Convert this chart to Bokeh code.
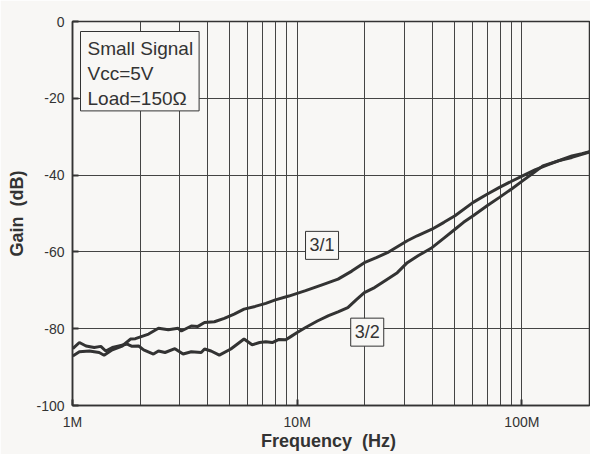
from bokeh.plotting import figure
from bokeh.models import FixedTicker, Label
from bokeh.embed import file_html
from bokeh.resources import INLINE

# Frequency in MHz, gain in dB
f_31 = [1.003, 1.073, 1.188, 1.314, 1.382, 1.504, 1.664, 1.811, 1.905, 2.181, 2.413,
        2.669, 2.953, 3.053, 3.379, 3.616, 3.870, 4.281, 4.737, 5.243, 5.801, 6.5,
        7.25, 8.0, 9.18, 10.9, 13.0, 15.2, 17.5, 19.9, 22.5, 25.2, 30.9, 34.2, 39.8,
        45.0, 50.4, 60.7, 70.0, 79.5, 90.0, 100.7, 115.0, 132.0, 150.0, 167.0, 185.0, 200.0]
g_31 = [-87.1, -86.0, -85.8, -86.2, -86.9, -85.5, -84.5, -82.7, -82.6, -81.4, -79.9,
        -80.3, -79.9, -80.6, -79.3, -79.4, -78.4, -78.2, -77.3, -76.2, -74.9, -74.2,
        -73.4, -72.5, -71.5, -70.1, -68.5, -67.1, -65.0, -62.8, -61.5, -60.2, -57.1, -55.8, -54.1,
        -52.3, -50.6, -47.1, -45.0, -43.2, -41.6, -40.2, -38.6, -37.2, -36.0, -35.0, -34.4, -33.9]

f_32 = [1.003, 1.073, 1.149, 1.249, 1.337, 1.406, 1.504, 1.609, 1.751, 1.841, 1.970,
        2.073, 2.293, 2.413, 2.581, 2.856, 3.107, 3.379, 3.739, 3.870, 4.137, 4.504,
        5.066, 5.422, 5.801, 6.3, 6.8, 7.25, 7.75, 8.3, 8.9, 9.4, 10.0, 10.9, 12.3, 13.8,
        15.2, 16.8, 18.3, 19.9, 22.1, 24.9, 27.9, 30.9, 34.5, 39.8, 45.0, 50.4, 55.0,
        60.7, 70.0, 79.5, 90.0, 100.7, 112.0, 124.0, 145.0, 167.0, 185.0, 200.0]
g_32 = [-85.2, -83.6, -84.5, -84.9, -84.6, -85.8, -84.9, -84.5, -84.0, -84.6, -84.5,
        -85.5, -86.6, -85.8, -86.2, -85.2, -86.6, -86.0, -86.2, -85.3, -85.8, -86.9,
        -85.3, -84.0, -82.7, -84.2, -83.6, -83.4, -83.6, -82.8, -82.9, -82.0, -81.0, -79.7, -78.0, -76.6,
        -75.6, -74.5, -72.5, -70.6, -69.3, -67.3, -65.4, -62.8, -61.0, -58.9, -56.4, -54.1, -52.3,
        -50.6, -48.0, -45.8, -43.6, -41.5, -39.5, -37.6, -36.3, -35.4, -34.6, -34.0]

x_ticks = [1, 10, 100]
x_tick_labels = {1: "1M", 10: "10M", 100: "100M"}
x_grid = [1, 2, 3, 4, 5, 6, 7, 8, 9, 10, 20, 30, 40, 50, 60, 70, 80, 90, 100, 200]
y_ticks = [-100, -80, -60, -40, -20, 0]
y_tick_labels = {-100: "-100", -80: "-80", -60: "-60", -40: "-40", -20: "-20", 0: "0"}

BG = "#f8f7f5"
INK = "#333333"
FONT = "Liberation Sans"

p = figure(x_axis_type="log", x_range=(1, 200), y_range=(-100, 0),
           width=590, height=454,
           min_border_left=72, min_border_top=21, min_border_right=1, min_border_bottom=49,
           output_backend="svg", toolbar_location=None,
           background_fill_color=BG, border_fill_color=BG)

p.outline_line_color = INK
p.outline_line_width = 1.5

p.xaxis.ticker = FixedTicker(ticks=x_ticks, minor_ticks=[])
p.xaxis.major_label_overrides = x_tick_labels
p.yaxis.ticker = FixedTicker(ticks=y_ticks, minor_ticks=[])
p.yaxis.major_label_overrides = y_tick_labels
p.xgrid.ticker = FixedTicker(ticks=x_grid)
p.ygrid.ticker = FixedTicker(ticks=y_ticks)

for ax in (p.xaxis[0], p.yaxis[0]):
    ax.axis_line_color = INK
    ax.axis_line_width = 1.5
    ax.major_tick_in = 6
    ax.major_tick_out = 0
    ax.major_tick_line_width = 2
    ax.major_tick_line_color = INK
    ax.minor_tick_line_color = None
    ax.major_label_text_font = FONT
    ax.major_label_text_font_size = "14px"
    ax.major_label_text_color = INK
    ax.axis_label_text_font = FONT
    ax.axis_label_text_font_size = "18px"
    ax.axis_label_text_font_style = "bold"
    ax.axis_label_text_color = INK

p.xaxis.axis_label = "Frequency\u00a0\u00a0(Hz)\u00a0"
p.yaxis.axis_label = "Gain\u00a0\u00a0(dB)"
p.xaxis.major_label_standoff = 8
p.yaxis.major_label_standoff = 8
p.xaxis.axis_label_standoff = -2
p.yaxis.axis_label_standoff = 6

for g in (p.xgrid[0], p.ygrid[0]):
    g.grid_line_color = "#444444"
    g.grid_line_width = 1

p.line(f_31, g_31, line_color=INK, line_width=3)
p.line(f_32, g_32, line_color=INK, line_width=3)

p.add_layout(Label(x=12.9, y=-58.3, text="3/1", text_align="center", text_baseline="middle",
                   text_font=FONT, text_font_size="18px", text_color=INK,
                   background_fill_color=BG, border_line_color=INK, border_line_width=1,
                   padding=4))
p.add_layout(Label(x=20.5, y=-80.9, text="3/2", text_align="center", text_baseline="middle",
                   text_font=FONT, text_font_size="18px", text_color=INK,
                   background_fill_color=BG, border_line_color=INK, border_line_width=1,
                   padding=4))

p.add_layout(Label(x=8, y=374, x_units="screen", y_units="screen",
                   text="Small Signal\nVcc=5V\nLoad=150\u03a9", text_align="left", text_baseline="top",
                   text_font=FONT, text_font_size="19px", text_color=INK,
                   background_fill_color=BG, border_line_color=INK, border_line_width=1,
                   padding=dict(left=7, right=6, top=6, bottom=2)))

open("out.html", "w").write(file_html(p, INLINE))
